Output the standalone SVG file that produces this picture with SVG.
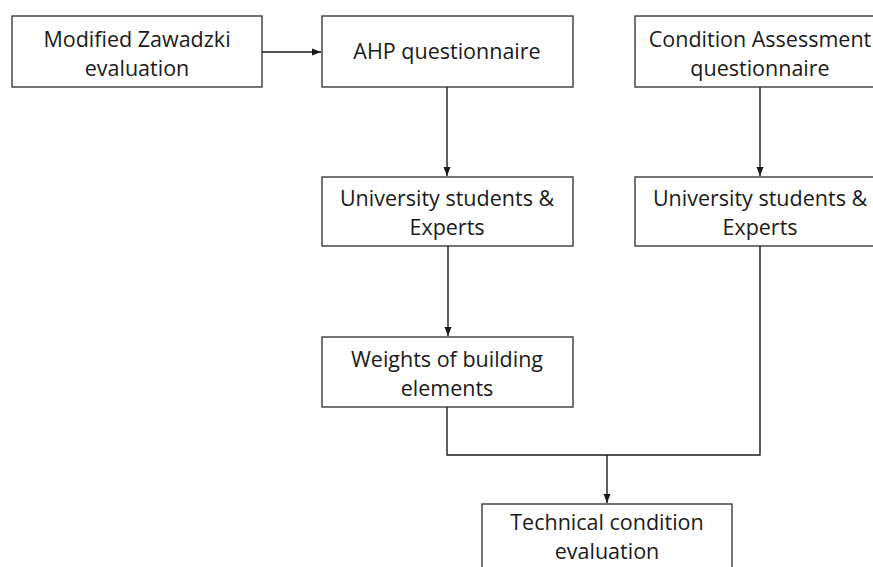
<svg xmlns="http://www.w3.org/2000/svg" width="873" height="567" viewBox="0 0 873 567">
<style>
.box{fill:#fff;stroke:#3a3a3a;stroke-width:1.4}
.lbl{font-family:"Open Sans","Liberation Sans",sans-serif;font-size:21.5px;fill:#1a1a1a;text-anchor:middle}
.con{fill:none;stroke:#1a1a1a;stroke-width:1.4}
</style>
<defs>
<marker id="ah" markerWidth="10" markerHeight="8" refX="9" refY="4" orient="auto" markerUnits="userSpaceOnUse">
<path d="M0,0.5 L9,4 L0,7.5 Z" fill="#1a1a1a"/>
</marker>
</defs>
<rect width="873" height="567" fill="#fff"/>
<g id="n1"><rect class="box" x="12" y="16" width="250" height="71"/><text class="lbl" x="137" y="47">Modified Zawadzki</text><text class="lbl" x="137" y="76">evaluation</text></g>
<g id="n2"><rect class="box" x="322" y="16" width="251" height="71"/><text class="lbl" x="447" y="59">AHP questionnaire</text></g>
<g id="n3"><rect class="box" x="635" y="16" width="250" height="71"/><text class="lbl" x="760" y="47">Condition Assessment</text><text class="lbl" x="760" y="76">questionnaire</text></g>
<g id="n4"><rect class="box" x="322" y="177" width="251" height="69"/><text class="lbl" x="447" y="206">University students &amp;</text><text class="lbl" x="447" y="235">Experts</text></g>
<g id="n5"><rect class="box" x="635" y="177" width="250" height="69"/><text class="lbl" x="760" y="206">University students &amp;</text><text class="lbl" x="760" y="235">Experts</text></g>
<g id="n6"><rect class="box" x="322" y="337" width="251" height="70"/><text class="lbl" x="447" y="367">Weights of building</text><text class="lbl" x="447" y="396">elements</text></g>
<g id="n7"><rect class="box" x="482" y="504" width="250" height="80"/><text class="lbl" x="607" y="530">Technical condition</text><text class="lbl" x="607" y="559">evaluation</text></g>
<g id="connectors">
<path class="con" d="M262,52 H321" marker-end="url(#ah)"/>
<path class="con" d="M447,87 V176" marker-end="url(#ah)"/>
<path class="con" d="M760,87 V176" marker-end="url(#ah)"/>
<path class="con" d="M448,246 V336" marker-end="url(#ah)"/>
<path class="con" d="M447,407 V455 H760 V246"/>
<path class="con" d="M607,455 V503" marker-end="url(#ah)"/>
</g>
</svg>
